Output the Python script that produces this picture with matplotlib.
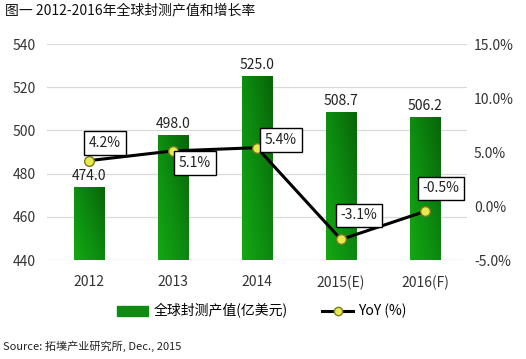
import numpy as np
import matplotlib.pyplot as plt
from matplotlib.lines import Line2D
from matplotlib.patches import Patch
from matplotlib.colors import LinearSegmentedColormap

plt.rcParams['font.family'] = ['Noto Sans CJK SC', 'DejaVu Sans']

years = ['2012', '2013', '2014', '2015(E)', '2016(F)']
output = [474.0, 498.0, 525.0, 508.7, 506.2]
yoy = [4.2, 5.1, 5.4, -3.1, -0.5]
yoy_offsets = [(16, 18), (22, -12), (24, 8), (18, 24), (16, 23)]

fig = plt.figure(figsize=(5.26, 3.59), dpi=100)
ax = fig.add_axes([47 / 526, 99 / 359, 420 / 526, 216 / 359])
ax2 = ax.twinx()

x = np.arange(len(years))
bars = ax.bar(x, output, width=0.36, color='#0f8a12', zorder=2)

# green gradient fill: brighter bottom-left, darker top-right
cmap = LinearSegmentedColormap.from_list('g', ['#14a814', '#0d8a10', '#086408'])
gx, gy = np.meshgrid(np.linspace(0, 1, 50), np.linspace(0, 1, 100))
grad = 0.55 * gx + 0.45 * gy
for b in bars:
    b.set_facecolor('none')
    x0, w, h = b.get_x(), b.get_width(), b.get_height()
    im = ax.imshow(grad, cmap=cmap, origin='lower', aspect='auto',
                   extent=[x0, x0 + w, 440, h], zorder=2)
    im.set_clip_path(b)

for xi, v in zip(x, output):
    ax.annotate(f'{v:.1f}', (xi, v), xytext=(0, 4), textcoords='offset pixels',
                ha='center', va='bottom', fontsize=10, color='#222222')

ax.set_ylim(440, 540)
ax.set_yticks(range(440, 541, 20))
ax.set_xlim(-0.5, 4.5)
ax.set_xticks(x)
ax.set_xticklabels(years)
ax.grid(axis='y', color='#d9d9d9', lw=0.9, zorder=0)
ax.set_axisbelow(True)
for a in (ax, ax2):
    for s in a.spines.values():
        s.set_visible(False)
    a.tick_params(length=0, labelsize=10, colors='#333333')
ax.tick_params(axis='x', pad=11)
ax.tick_params(axis='y', pad=8)

ax2.plot(x, yoy, color='black', lw=2.2, marker='o', markersize=7,
         markerfacecolor='#e6ea4c', markeredgecolor='#7a7a20', zorder=5)
ax2.set_ylim(-5, 15)
ax2.set_yticks(np.arange(-5, 15.1, 5))
ax2.set_yticklabels([f'{v:.1f}%' for v in np.arange(-5, 15.1, 5)])
ax2.tick_params(axis='y', pad=5)
for xi, v, (dx, dy) in zip(x, yoy, yoy_offsets):
    ax2.annotate(f'{v:.1f}%', (xi, v), xytext=(dx, dy), textcoords='offset pixels',
                 ha='center', va='center', fontsize=10, color='#222222', zorder=6,
                 bbox=dict(boxstyle='square,pad=0.35', fc='white', ec='black', lw=1))

handles = [Patch(color='#0f8a12'),
           Line2D([0], [0], color='black', lw=2.2, marker='o', markersize=6,
                  markerfacecolor='#e6ea4c', markeredgecolor='#7a7a20')]
fig.legend(handles, ['全球封测产值(亿美元)', 'YoY (%)'], loc='center',
           bbox_to_anchor=(262 / 526, 1 - 311 / 359), ncol=2, frameon=False,
           fontsize=10, handlelength=2.2, columnspacing=2.5, handletextpad=0.4)

fig.text(5 / 526, 1 - 10 / 359, '图一 2012-2016年全球封测产值和增长率', fontsize=10,
         va='center', ha='left', color='#111111')
fig.text(3 / 526, 1 - 346 / 359, 'Source: 拓墣产业研究所, Dec., 2015', fontsize=8,
         va='center', ha='left', color='#222222')

fig.savefig('out.png', dpi=100)
